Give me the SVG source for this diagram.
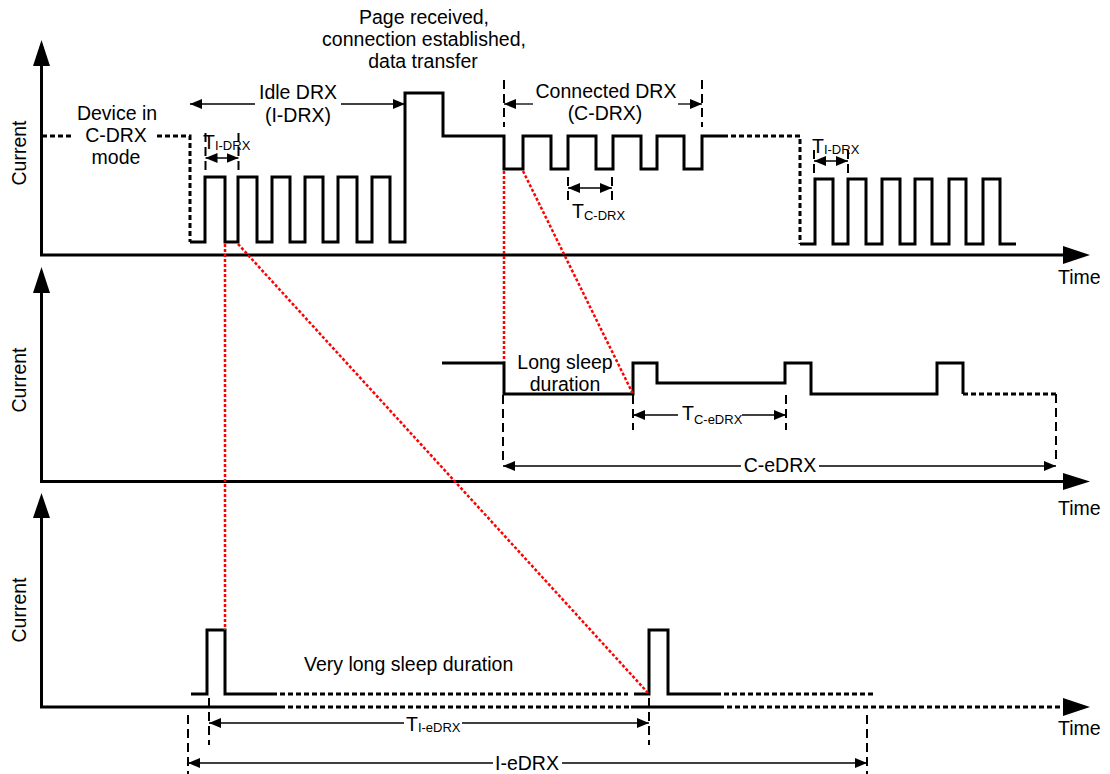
<svg xmlns="http://www.w3.org/2000/svg" width="1110" height="774" viewBox="0 0 1110 774">
<style>
text{font-family:"Liberation Sans",Arial,sans-serif;font-size:19.5px;fill:#000}
.sub{font-size:13px}
.c{text-anchor:middle}
.ax{stroke:#000;stroke-width:3;fill:none}
.wf{stroke:#000;stroke-width:3;fill:none;stroke-linejoin:miter}
.dot{stroke:#000;stroke-width:3;fill:none;stroke-dasharray:5,3}
.mk{stroke:#000;stroke-width:2;fill:none;stroke-dasharray:9,5}
.ar{stroke:#000;stroke-width:1.3;fill:none}
.red{stroke:#ff0000;stroke-width:2.5;fill:none;stroke-dasharray:3,2}
</style>
<defs>
<marker id="ah" viewBox="0 0 12 10" refX="12" refY="5" markerWidth="12" markerHeight="10" markerUnits="userSpaceOnUse" orient="auto-start-reverse">
<path d="M0,0 L12,5 L0,10 z" fill="#000"/>
</marker>
</defs>
<g id="axes">
<path class="ax" d="M41.5,255 V64 M40,255 H1064"/>
<polygon points="41.5,40 33,66 50,66"/>
<polygon points="1063,246 1090,255 1063,264"/>
<path class="ax" d="M41.5,481.5 V291 M40,481.5 H1064"/>
<polygon points="41.5,267 33,293 50,293"/>
<polygon points="1063,473 1090,481.5 1063,490"/>
<path class="ax" d="M41.5,707 V516 M40,707 H280 M631,707 H719"/>
<path class="dot" d="M280,707 H631 M719,707 H1063"/>
<polygon points="41.5,493 33,518 50,518"/>
<polygon points="1063,698 1090,707 1063,716"/>
<text transform="translate(26,153) rotate(-90)" class="c">Current</text>
<text transform="translate(26,380) rotate(-90)" class="c">Current</text>
<text transform="translate(26,610) rotate(-90)" class="c">Current</text>
<text x="1058" y="284">Time</text>
<text x="1058" y="515">Time</text>
<text x="1058" y="735">Time</text>
</g>
<g id="waveform-top">
<path class="dot" d="M42,136 H74 M157,136 H190 V242"/>
<path class="wf" d="M190,242 H205 V177 H225 V242 H238 V177 H257 V242 H272 V177 H290 V242 H305 V177 H323 V242 H338 V177 H357 V242 H372 V177 H390 V242 H405 V93 H443 V136 H504 V169 H523 V136 H551 V169 H568 V136 H596 V169 H613 V136 H641 V169 H657 V136 H684 V169 H702 V136 H723"/>
<path class="dot" d="M723,136 H800 V244"/>
<path class="wf" d="M800,244 H815 V179 H833 V244 H848 V179 H866 V244 H882 V179 H900 V244 H915 V179 H932 V244 H949 V179 H966 V244 H983 V179 H1000 V244 H1016"/>
</g>
<g id="waveform-middle">
<path class="wf" d="M442,363 H504 V394 H633 V363 H657 V383 H785 V363 H811 V394 H937 V363 H963 V394"/>
<path class="dot" d="M963,394 H1056"/>
</g>
<g id="waveform-bottom">
<path class="wf" d="M191,694 H207 V630 H225 V694 H272"/>
<path class="dot" d="M272,694 H628"/>
<path class="wf" d="M634,694 H649 V630 H668 V694 H716"/>
<path class="dot" d="M716,694 H873"/>
</g>
<g id="label-device">
<text x="117" y="120" class="c">Device in</text>
<text x="116" y="142" class="c">C-DRX</text>
<text x="116" y="164" class="c">mode</text>
</g>
<g id="label-page">
<text x="424" y="24" class="c">Page received,</text>
<text x="424" y="46" class="c">connection established,</text>
<text x="423" y="68" class="c">data transfer</text>
</g>
<g id="idle-drx">
<path class="ar" d="M190,104 H255" marker-start="url(#ah)"/>
<path class="ar" d="M341,104 H405" marker-end="url(#ah)"/>
<text x="298" y="99" class="c">Idle DRX</text>
<text x="298" y="122" class="c">(I-DRX)</text>
</g>
<g id="t-idrx-left">
<path class="mk" d="M205.5,133 V172 M238.5,133 V172"/>
<path class="ar" d="M205.5,158 H238.5" marker-start="url(#ah)" marker-end="url(#ah)"/>
<text x="203" y="149">T<tspan class="sub" dy="1">I-DRX</tspan></text>
</g>
<g id="connected-drx">
<path class="mk" d="M504,80 V127 M702,80 V127"/>
<path class="ar" d="M504,104 H533" marker-start="url(#ah)"/>
<path class="ar" d="M678,104 H702" marker-end="url(#ah)"/>
<text x="606" y="98" class="c">Connected DRX</text>
<text x="605" y="120" class="c">(C-DRX)</text>
</g>
<g id="t-cdrx">
<path class="mk" d="M568,177 V203 M612,177 V203"/>
<path class="ar" d="M568,188 H612" marker-start="url(#ah)" marker-end="url(#ah)"/>
<text x="572" y="218">T<tspan class="sub" dy="2">C-DRX</tspan></text>
</g>
<g id="t-idrx-right">
<path class="mk" d="M814,150 V177 M848,150 V177"/>
<path class="ar" d="M814,161 H848" marker-start="url(#ah)" marker-end="url(#ah)"/>
<text x="812" y="153">T<tspan class="sub" dy="1">I-DRX</tspan></text>
</g>
<g id="long-sleep">
<text x="565" y="369" class="c">Long sleep</text>
<text x="565" y="391" class="c">duration</text>
</g>
<g id="t-cedrx">
<path class="mk" d="M633,395 V430 M786,395 V430"/>
<path class="ar" d="M633,415 H678" marker-start="url(#ah)"/>
<path class="ar" d="M742,415 H786" marker-end="url(#ah)"/>
<text x="682" y="420">T<tspan class="sub" dy="4">C-eDRX</tspan></text>
</g>
<g id="c-edrx">
<path class="mk" d="M503,395 V460 M1056,394 V460"/>
<path class="ar" d="M503,466 H741" marker-start="url(#ah)"/>
<path class="ar" d="M819,466 H1056" marker-end="url(#ah)"/>
<text x="780" y="472" class="c">C-eDRX</text>
</g>
<g id="very-long-sleep">
<text x="304" y="671">Very long sleep duration</text>
</g>
<g id="t-iedrx">
<path class="mk" d="M209,698 V745 M649,698 V745"/>
<path class="ar" d="M209,723 H404" marker-start="url(#ah)"/>
<path class="ar" d="M462,723 H649" marker-end="url(#ah)"/>
<text x="406" y="731">T<tspan class="sub" dy="1">I-eDRX</tspan></text>
</g>
<g id="i-edrx">
<path class="mk" d="M188,715 V774 M867,715 V774"/>
<path class="ar" d="M188,763 H493" marker-start="url(#ah)"/>
<path class="ar" d="M562,763 H867" marker-end="url(#ah)"/>
<text x="527" y="770" class="c">I-eDRX</text>
</g>
<g id="connectors">
<path class="red" d="M225,244 V630"/>
<path class="red" d="M238,244 L649,694"/>
<path class="red" d="M504,171 V362"/>
<path class="red" d="M523,171 L633,394"/>
</g>
</svg>
